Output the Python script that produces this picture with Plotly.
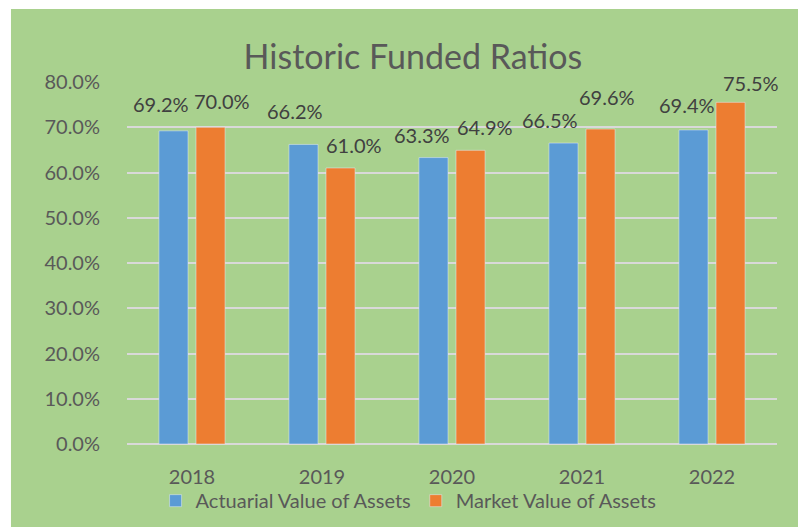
import plotly.graph_objects as go

years = ["2018", "2019", "2020", "2021", "2022"]
actuarial = [0.692, 0.662, 0.633, 0.665, 0.694]
market = [0.700, 0.610, 0.649, 0.696, 0.755]
series_names = ["Actuarial Value of Assets", "Market Value of Assets"]
y_ticks = [0.0, 0.1, 0.2, 0.3, 0.4, 0.5, 0.6, 0.7, 0.8]

# label placement tweaks (pixels), as in the reference
act_dx = [-31, -27, -30, -32, -25]
act_dy = [27, 33, 23, 23, 25]
mkt_dx = [30, 32, 33, 25, 39]
mkt_dy = [26, 23, 23, 32, 19]

BLUE = "#5B9BD5"
ORANGE = "#ED7D31"
GREEN = "#A9D18E"
FONT = "Lato"

fig = go.Figure()
fig.add_trace(go.Bar(x=years, y=actuarial, name=series_names[0], marker_color=BLUE))
fig.add_trace(go.Bar(x=years, y=market, name=series_names[1], marker_color=ORANGE))

annotations = []
for i, yr in enumerate(years):
    # category axis: position by category index
    annotations.append(dict(x=i, y=actuarial[i], xref="x", yref="y", text=f"{actuarial[i]*100:.1f}%",
                            showarrow=False, xshift=act_dx[i], yshift=act_dy[i], yanchor="middle",
                            font=dict(family=FONT, size=20, color="#404040")))
    annotations.append(dict(x=i, y=market[i], xref="x", yref="y", text=f"{market[i]*100:.1f}%",
                            showarrow=False, xshift=mkt_dx[i], yshift=mkt_dy[i], yanchor="middle",
                            font=dict(family=FONT, size=20, color="#404040")))

fig.update_layout(
    width=798, height=527,
    margin=dict(l=127, r=21, t=82, b=83, autoexpand=False),
    paper_bgcolor="white",
    plot_bgcolor="rgba(0,0,0,0)",
    font=dict(family=FONT, color="#595959", size=20),
    title=dict(text="Historic Funded Ratios", x=0.5175, xref="container", xanchor="center",
               y=0.892, yref="container", yanchor="middle",
               font=dict(family=FONT, size=34, color="#595959")),
    barmode="group", bargap=0.43, bargroupgap=0.216,
    showlegend=True,
    legend=dict(orientation="h", x=0.512, xref="container", xanchor="center",
                y=0.050, yref="container", yanchor="middle",
                font=dict(family=FONT, size=20, color="#595959"),
                bgcolor="rgba(0,0,0,0)", itemwidth=30, traceorder="normal"),
    shapes=[dict(type="rect", xref="paper", yref="paper", x0=-0.1785, x1=1.0323, y0=-0.2293, y1=1.2017,
                 fillcolor=GREEN, line=dict(width=0), layer="below")],
    annotations=annotations,
)
fig.update_yaxes(range=[0, 0.8], tickvals=y_ticks, tickformat=".1%", showgrid=True,
                 gridcolor="#D9D9D9", gridwidth=2, zeroline=True, zerolinecolor="#D9D9D9",
                 zerolinewidth=2, showline=False, ticks="outside", ticklen=22, automargin=False,
                 tickcolor="rgba(0,0,0,0)", tickfont=dict(family=FONT, size=20, color="#595959"))
fig.update_xaxes(type="category", categoryorder="array", categoryarray=years,
                 range=[-0.5, len(years) - 0.5], showline=False, showgrid=False,
                 ticks="outside", ticklen=15, automargin=False, tickcolor="rgba(0,0,0,0)",
                 tickfont=dict(family=FONT, size=20, color="#595959"))

fig.write_html("out.html", config={"displayModeBar": False},
               post_script="document.body.style.margin='0';")
